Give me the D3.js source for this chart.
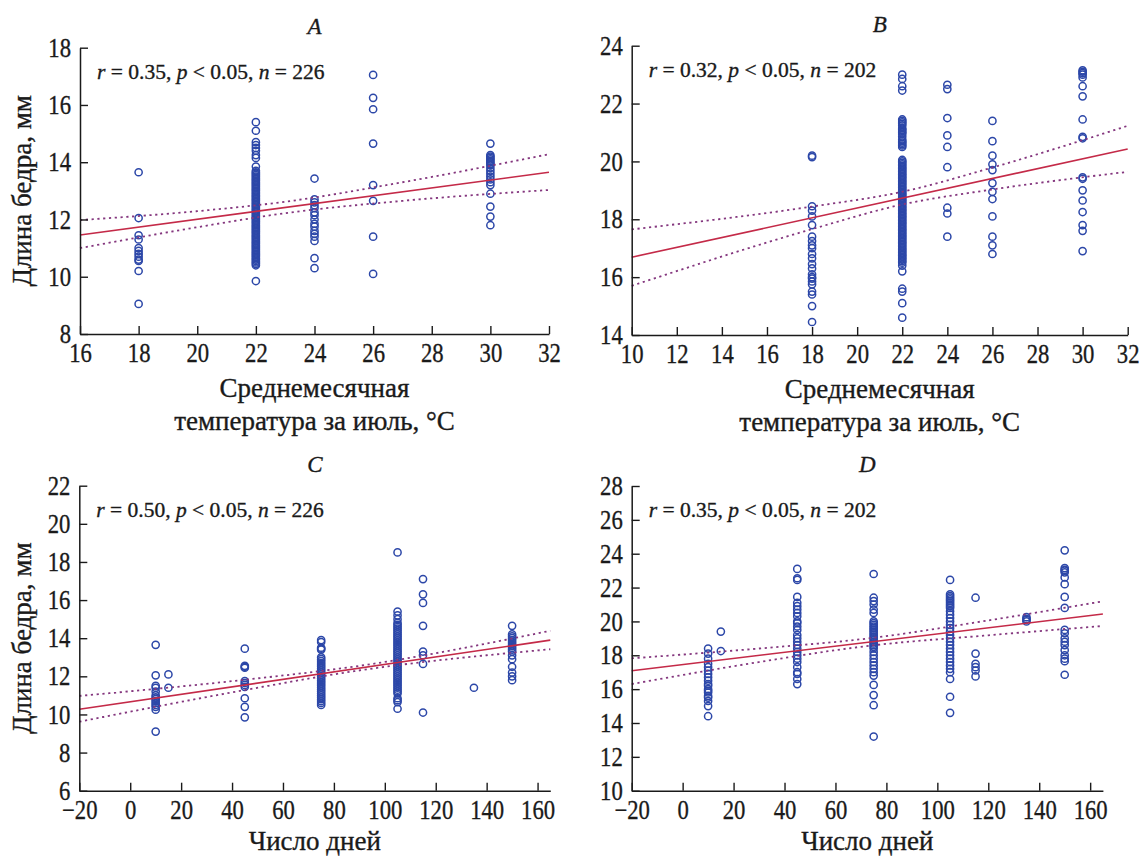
<!DOCTYPE html>
<html><head><meta charset="utf-8">
<script src="https://cdn.jsdelivr.net/npm/d3@7"></script>
<style>
body{margin:0;background:#fff}
svg{display:block}
text{font-family:"Liberation Serif","Times New Roman","DejaVu Serif",serif;fill:#1a1a1a;stroke:#1a1a1a;stroke-width:0.35px}
</style>
</head><body>
<svg id="chart" width="1143" height="857"></svg>
<script>
// ---------- DATA ----------
// Panel A: July mean temperature (°C) vs femur length (mm)
const A18 = [13.65, 12.05, 11.45, 11.3, 11.0, 10.9, 10.8, 10.7, 10.6, 10.55, 10.2, 9.05];
const A22 = [15.4, 15.1, 14.7, 14.6, 14.5, 14.4, 14.25, 14.15, 13.85, 13.7, 13.6, 13.5, 13.4, 13.3, 13.2, 13.1, 13.0, 12.9, 12.8, 12.7, 12.6, 12.5, 12.4, 12.3, 12.2, 12.1, 12.0, 11.9, 11.8, 11.7, 11.6, 11.5, 11.4, 11.3, 11.2, 11.1, 11.0, 10.9, 10.8, 10.7, 10.6, 10.5, 10.4, 9.85,
  13.65, 13.55, 13.45, 13.35, 13.25, 13.15, 13.05, 12.95, 12.85, 12.75, 12.65, 12.55, 12.45, 12.35, 12.25, 12.15, 12.05, 11.95, 11.85, 11.75, 11.65, 11.55, 11.45, 11.35, 11.25, 11.15, 11.05, 10.95, 10.85, 10.75, 10.65, 10.55, 10.45];
const A24 = [13.43, 12.7, 12.6, 12.5, 12.4, 12.25, 12.15, 12.0, 11.85, 11.75, 11.6, 11.5, 11.4, 11.25, 10.65, 10.3];
const A26 = [17.05, 16.25, 15.85, 14.65, 13.2, 12.65, 11.4, 10.1];
const A30 = [14.65, 14.25, 14.2, 14.15, 14.1, 14.05, 14.0, 13.95, 13.9, 13.8, 13.7, 13.6, 13.5, 13.4, 13.3, 13.2, 12.9, 12.45, 12.1, 11.8];
const fitA = [[16, 11.46], [32, 13.65]];
const upA = [[16, 11.98], [20, 12.29], [23, 12.62], [27, 13.3], [32, 14.28]];
const loA = [[16, 11.0], [20, 11.73], [23, 12.22], [27, 12.65], [32, 13.03]];

// Panel B
const B18 = [20.2, 20.15, 18.45, 18.3, 18.1, 17.8, 17.4, 17.25, 17.1, 17.0, 16.8, 16.65, 16.45, 16.3, 16.1, 16.0, 15.95, 15.85, 15.75, 15.5, 15.4, 15.0, 14.45];
const B22 = [23.0, 22.85, 22.6, 22.45, 21.45, 21.35, 21.25, 21.1, 21.0, 20.85, 20.7, 20.6, 20.5, 20.05, 19.95, 19.85, 19.75, 19.65, 19.55, 19.45, 19.35, 19.25, 19.15, 19.05, 18.95, 18.85, 18.75, 18.65, 18.55, 18.45, 18.35, 18.25, 18.15, 18.05, 17.95, 17.85, 17.75, 17.65, 17.55, 17.45, 17.35, 17.25, 17.15, 17.05, 16.95, 16.85, 16.75, 16.65, 16.55, 16.4, 16.2, 15.6, 15.5, 15.1, 14.6,
  21.4, 21.3, 21.15, 21.05, 20.95, 20.75, 20.65, 20.55, 20.0, 19.9, 19.8, 19.7, 19.6, 19.5, 19.4, 19.3, 19.2, 19.1, 19.0, 18.9, 18.8, 18.7, 18.6, 18.5, 18.4, 18.3, 18.2, 18.1, 18.0, 17.9, 17.8, 17.7, 17.6, 17.5, 17.4, 17.3, 17.2, 17.1, 17.0, 16.9, 16.8, 16.7, 16.6, 16.5];
const B24 = [22.65, 22.5, 21.5, 20.9, 20.5, 19.8, 18.4, 18.2, 17.4];
const B26 = [21.4, 20.7, 20.2, 19.9, 19.7, 19.25, 18.95, 18.7, 18.1, 17.4, 17.1, 16.8];
const B30 = [23.15, 23.1, 23.05, 23.0, 22.9, 22.6, 22.25, 21.45, 20.85, 20.8, 19.45, 19.4, 19.0, 18.65, 18.25, 17.8, 17.6, 16.9];
const fitB = [[10, 16.69], [32, 20.43]];
const upB = [[10, 17.65], [18, 18.44], [22, 18.95], [26, 19.79], [32, 21.23]];
const loB = [[10, 15.7], [18, 17.66], [22, 18.51], [26, 19.03], [32, 19.64]];

// Panel C: number of days vs femur length (mm)
const C10 = [13.65, 12.05, 11.5, 11.4, 11.2, 11.0, 10.9, 10.8, 10.7, 10.6, 10.5, 10.4, 10.25, 9.1];
const C15 = [12.1, 11.4];
const C45 = [13.45, 12.55, 12.5, 12.45, 11.75, 11.65, 11.55, 11.45, 10.85, 10.4, 9.85];
const C75 = [13.9, 13.8, 13.5, 13.45, 13.4, 13.0, 12.9, 12.8, 12.7, 12.6, 12.5, 12.4, 12.3, 12.2, 12.1, 12.0, 11.9, 11.8, 11.7, 11.6, 11.5, 11.4, 11.3, 11.2, 11.1, 11.0, 10.9, 10.8, 10.7, 10.6, 10.5];
const C105 = [18.5, 15.4, 15.2, 15.0, 14.8, 14.7, 14.6, 14.5, 14.4, 14.3, 14.2, 14.1, 14.0, 13.9, 13.8, 13.7, 13.6, 13.5, 13.4, 13.3, 13.2, 13.1, 13.0, 12.9, 12.8, 12.7, 12.6, 12.5, 12.4, 12.3, 12.2, 12.1, 12.0, 11.9, 11.8, 11.7, 11.6, 11.5, 11.4, 11.3, 11.2, 11.1, 10.85, 10.75, 10.65, 10.3];
const C115 = [17.1, 16.3, 15.85, 14.65, 13.3, 13.1, 12.65, 10.1];
const C135 = [11.4];
const C150 = [14.65, 14.2, 14.1, 14.0, 13.9, 13.8, 13.7, 13.6, 13.5, 13.4, 13.3, 13.1, 12.9, 12.5, 12.2, 12.0, 11.8];
const fitC = [[-20, 10.27], [165, 13.9]];
const upC = [[-20, 10.97], [45, 11.82], [88, 12.51], [165, 14.39]];
const loC = [[-20, 9.62], [45, 11.28], [88, 12.27], [165, 13.42]];

// Panel D
const D10 = [18.4, 18.1, 17.8, 17.5, 17.3, 17.1, 16.9, 16.7, 16.5, 16.3, 16.2, 16.0, 15.9, 15.8, 15.6, 15.5, 15.3, 15.0, 14.4];
const D15 = [19.4, 18.25];
const D45 = [23.1, 22.55, 22.45, 21.45, 21.1, 20.9, 20.7, 20.5, 20.3, 20.0, 19.9, 19.7, 19.5, 19.2, 19.0, 18.8, 18.6, 18.4, 18.2, 18.0, 17.8, 17.6, 17.3, 17.0, 16.9, 16.6, 16.3];
const D75 = [22.8, 21.4, 21.2, 21.0, 20.7, 20.5, 20.0, 19.9, 19.8, 19.7, 19.6, 19.5, 19.4, 19.3, 19.2, 19.1, 19.0, 18.9, 18.8, 18.7, 18.6, 18.5, 18.4, 18.2, 18.0, 17.8, 17.6, 17.4, 17.2, 17.0, 16.8, 16.25, 15.65, 15.05, 13.2];
const D105 = [22.45, 21.6, 21.5, 21.4, 21.3, 21.2, 21.1, 21.0, 20.9, 20.8, 20.6, 20.4, 20.2, 20.0, 19.8, 19.6, 19.4, 19.2, 19.0, 18.8, 18.6, 18.4, 18.2, 18.0, 17.8, 17.6, 17.4, 17.2, 17.0, 16.6, 15.55, 14.6];
const D115 = [21.4, 18.1, 17.5, 17.3, 17.1, 16.75];
const D135 = [20.25, 20.15, 20.1, 20.0];
const D150 = [24.2, 23.15, 23.05, 23.0, 22.9, 22.6, 22.2, 21.45, 20.8, 19.5, 19.3, 19.0, 18.8, 18.6, 18.3, 18.0, 17.8, 17.65, 16.85];
const fitD = [[-20, 17.09], [165, 20.44]];
const upD = [[-20, 17.82], [30, 18.4], [72, 18.98], [120, 20.06], [165, 21.19]];
const loD = [[-20, 16.3], [30, 17.6], [72, 18.54], [120, 19.18], [165, 19.73]];

// Tick labels
const ticksXA = [16, 18, 20, 22, 24, 26, 28, 30, 32];
const ticksYA = [8, 10, 12, 14, 16, 18];
const ticksXB = [10, 12, 14, 16, 18, 20, 22, 24, 26, 28, 30, 32];
const ticksYB = [14, 16, 18, 20, 22, 24];
const ticksXC = [-20, 0, 20, 40, 60, 80, 100, 120, 140, 160];
const ticksYC = [6, 8, 10, 12, 14, 16, 18, 20, 22];
const ticksYD = [10, 12, 14, 16, 18, 20, 22, 24, 26, 28];

const titles = ["A", "B", "C", "D"];
const stats = [
  {r: "0.35", n: "226"}, {r: "0.32", n: "202"}, {r: "0.50", n: "226"}, {r: "0.35", n: "202"}
];
const yLabel = "Длина бедра, мм";
const xLabelTemp = ["Среднемесячная", "температура за июль, °C"];
const xLabelDays = ["Число дней"];

// ---------- LAYOUT ----------
const panels = [
  {title: titles[0], stat: stats[0], cols: [[18, A18], [22, A22], [24, A24], [26, A26], [30, A30]],
   fit: fitA, up: upA, lo: loA, xd: [16, 32], yd: [8, 18], xt: ticksXA, yt: ticksYA,
   xr: [80, 549], yr: [334, 47.7], xlab: xLabelTemp, xlabY: 63, ylab: true},
  {title: titles[1], stat: stats[1], cols: [[18, B18], [22, B22], [24, B24], [26, B26], [30, B30]],
   fit: fitB, up: upB, lo: loB, xd: [10, 32], yd: [14, 24], xt: ticksXB, yt: ticksYB,
   xr: [631.7, 1127.7], yr: [335, 45.7], xlab: xLabelTemp, xlabY: 63, ylab: false},
  {title: titles[2], stat: stats[2], cols: [[10, C10], [15, C15], [45, C45], [75, C75], [105, C105], [115, C115], [135, C135], [150, C150]],
   fit: fitC, up: upC, lo: loC, xd: [-20, 165], yd: [6, 22], xt: ticksXC, yt: ticksYC,
   xr: [79.3, 550.3], yr: [790.7, 485.7], xlab: xLabelDays, xlabY: 59, ylab: true},
  {title: titles[3], stat: stats[3], cols: [[10, D10], [15, D15], [45, D45], [75, D75], [105, D105], [115, D115], [135, D135], [150, D150]],
   fit: fitD, up: upD, lo: loD, xd: [-20, 165], yd: [10, 28], xt: ticksXC, yt: ticksYD,
   xr: [631.7, 1102.9], yr: [790.7, 486], xlab: xLabelDays, xlabY: 59, ylab: false}
];

const FONT = '"Liberation Serif","Times New Roman","DejaVu Serif",serif';
const svg = d3.select("#chart");
svg.append("rect").attr("width", 1143).attr("height", 857).attr("fill", "#fff");

panels.forEach(p => {
  const x = d3.scaleLinear().domain(p.xd).range(p.xr);
  const y = d3.scaleLinear().domain(p.yd).range(p.yr);
  const g = svg.append("g");

  // points
  const pts = [];
  p.cols.forEach(([xv, ys]) => ys.forEach(v => pts.push([xv, v])));
  g.append("g").selectAll("circle").data(pts).join("circle")
    .attr("cx", d => x(d[0])).attr("cy", d => y(d[1])).attr("r", 3.6)
    .attr("fill", "none").attr("stroke", "#2c47a8").attr("stroke-width", 1.5);

  // regression + confidence bands
  const line = d3.line().x(d => x(d[0])).y(d => y(d[1])).curve(d3.curveMonotoneX);
  [p.up, p.lo].forEach(b => g.append("path").attr("d", line(b)).attr("fill", "none")
    .attr("stroke", "#84367e").attr("stroke-width", 1.8).attr("stroke-dasharray", "2.2,3.6"));
  g.append("path").attr("d", line(p.fit)).attr("fill", "none")
    .attr("stroke", "#c42a48").attr("stroke-width", 1.6);

  // axes
  const xa = d3.axisBottom(x).tickValues(p.xt).tickSizeInner(-8).tickSizeOuter(0).tickPadding(9.3)
    .tickFormat(d3.format("d"));
  const ya = d3.axisLeft(y).tickValues(p.yt).tickSizeInner(-8).tickSizeOuter(0).tickPadding(10.7)
    .tickFormat(d3.format("d"));
  const gx = g.append("g").attr("transform", `translate(0,${p.yr[0]})`).call(xa);
  const gy = g.append("g").attr("transform", `translate(${p.xr[0]},0)`).call(ya);
  [gx, gy].forEach(a => {
    a.attr("font-family", FONT);
    a.select(".domain").attr("stroke", "#1a1a1a").attr("stroke-width", 1.5);
    a.selectAll(".tick line").attr("stroke", "#1a1a1a").attr("stroke-width", 1.4);
    a.selectAll("text").attr("font-size", 27).style("font-family", FONT)
      .attr("fill", "#1a1a1a").attr("transform", "scale(0.84,1)");
  });

  const cx = (p.xr[0] + p.xr[1]) / 2;
  // title
  g.append("text").attr("x", cx).attr("y", p.yr[1] - 14).attr("text-anchor", "middle")
    .attr("font-size", 23).attr("font-style", "italic").text(p.title);

  // statistics
  const st = g.append("text").attr("x", p.xr[0] + 17).attr("y", p.yr[1] + 31).attr("font-size", 21.5);
  st.append("tspan").attr("font-style", "italic").text("r");
  st.append("tspan").text(` = ${p.stat.r}, `);
  st.append("tspan").attr("font-style", "italic").text("p");
  st.append("tspan").text(" < 0.05, ");
  st.append("tspan").attr("font-style", "italic").text("n");
  st.append("tspan").text(` = ${p.stat.n}`);

  // x label
  p.xlab.forEach((t, i) => g.append("text").attr("x", cx).attr("y", p.yr[0] + p.xlabY + i * 33)
    .attr("text-anchor", "middle").attr("font-size", 27).text(t));

  // y label
  if (p.ylab) {
    const ym = (p.yr[0] + p.yr[1]) / 2;
    g.append("text").attr("transform", `translate(31,${ym}) rotate(-90)`)
      .attr("text-anchor", "middle").attr("font-size", 27).text(yLabel);
  }
});
</script>
</body></html>
